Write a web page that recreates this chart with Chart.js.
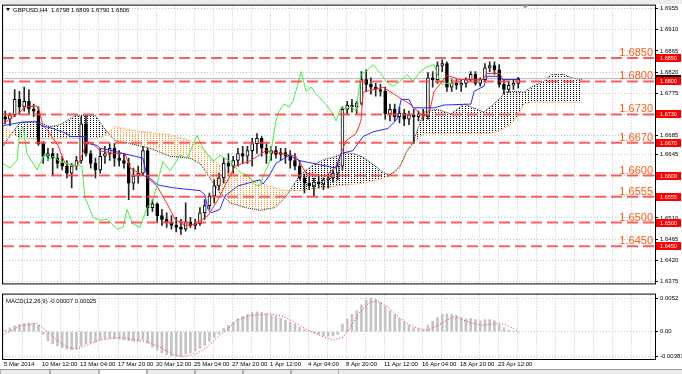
<!DOCTYPE html>
<html>
<head>
<meta charset="utf-8">
<script src="https://cdn.jsdelivr.net/npm/chart.js@4.4.1/dist/chart.umd.min.js"></script>
<style>
  html, body { margin: 0; padding: 0; background: #fff; }
  #wrap { position: relative; width: 682px; height: 374px; overflow: hidden; background: #fff; }
  #main { position: absolute; left: 0; top: 0; }
  #macd { position: absolute; left: 0; top: 289px; }
  #topbar { position: absolute; left: 0; top: 0; width: 682px; height: 4px; background: #ececec; }
  #tabs { position: absolute; left: 0; top: 369px; width: 682px; height: 5px; background: #ececec; border-top: 1px solid #9a9a9a; box-sizing: border-box; }
  #tabs .t { position: absolute; top: 0; height: 5px; border-left: 1px solid #b0b0b0; border-right: 1px solid #b0b0b0; box-sizing: border-box; }
</style>
</head>
<body>
<div id="wrap">
  <canvas id="main" width="682" height="289"></canvas>
  <canvas id="macd" width="682" height="80"></canvas>
  <div id="topbar"></div>
  <div id="tabs">
    <div class="t" style="left:0;width:50px"></div>
    <div class="t" style="left:50px;width:49px"></div>
    <div class="t" style="left:99px;width:48px;background:#fff"></div>
    <div class="t" style="left:147px;width:48px"></div>
    <div class="t" style="left:195px;width:48px"></div>
    <div class="t" style="left:243px;width:48px"></div>
    <div class="t" style="left:291px;width:48px"></div>
  </div>
</div>
<script>
"use strict";

/*
GBPUSD H4 — candles, Ichimoku, MACD(12,26,9)
Candles are 8h groups (two H4 bars each); x axis is measured in H4 bars.
*/

/* ---------------- DATA ---------------- */

const symbolTitle = "GBPUSD,H4";
const lastOHLC = ["1.6798", "1.6809", "1.6790", "1.6806"];
const macdTitle = "MACD(12,26,9) -0.00007 0.00025";

const dateLabels = [
  "5 Mar 2014", "10 Mar 12:00", "13 Mar 04:00", "17 Mar 20:00", "20 Mar 12:00",
  "25 Mar 04:00", "27 Mar 20:00", "1 Apr 12:00", "4 Apr 04:00", "8 Apr 20:00",
  "11 Apr 12:00", "16 Apr 04:00", "18 Apr 20:00", "23 Apr 12:00",
];

const priceTicks = [1.6955, 1.6910, 1.6865, 1.6820, 1.6775, 1.6730, 1.6685,
  1.6645, 1.6600, 1.6555, 1.6510, 1.6465, 1.6420, 1.6375];

const levelPrices = [1.6850, 1.6800, 1.6730, 1.6670, 1.6600, 1.6555, 1.6500, 1.6450];
const bidPrice = 1.6806;

const macdTicks = [0.0052, 0, -0.00381];
const macdTickLabels = ["0.0052", "0.00", "-0.00381"];

const candleOpen = [
  1.6725, 1.6720, 1.6729, 1.6762, 1.6746, 1.6758, 1.6741, 1.6737, 1.6668, 1.6641,
  1.6647, 1.6637, 1.6626, 1.6620, 1.6605, 1.6620, 1.6632, 1.6710, 1.6647, 1.6626,
  1.6612, 1.6641, 1.6647, 1.6658, 1.6637, 1.6632, 1.6626, 1.6584, 1.6599, 1.6605,
  1.6653, 1.6532, 1.6540, 1.6515, 1.6507, 1.6501, 1.6494, 1.6490, 1.6486, 1.6501,
  1.6494, 1.6498, 1.6521, 1.6536, 1.6557, 1.6578, 1.6595, 1.6626, 1.6620, 1.6632,
  1.6647, 1.6641, 1.6653, 1.6668, 1.6679, 1.6658, 1.6647, 1.6653, 1.6645, 1.6649,
  1.6641, 1.6632, 1.6620, 1.6595, 1.6584, 1.6578, 1.6586, 1.6582, 1.6591, 1.6595,
  1.6605, 1.6620, 1.6741, 1.6750, 1.6746, 1.6754, 1.6804, 1.6794, 1.6788, 1.6783,
  1.6779, 1.6731, 1.6741, 1.6725, 1.6733, 1.6720, 1.6729, 1.6725, 1.6731, 1.6727,
  1.6808, 1.6804, 1.6834, 1.6838, 1.6788, 1.6796, 1.6792, 1.6796, 1.6804, 1.6815,
  1.6796, 1.6804, 1.6829, 1.6834, 1.6825, 1.6794, 1.6783, 1.6792, 1.6796,
];
const candleHigh = [
  1.6737, 1.6733, 1.6783, 1.6779, 1.6788, 1.6783, 1.6752, 1.6746, 1.6672, 1.6658,
  1.6658, 1.6647, 1.6641, 1.6632, 1.6626, 1.6641, 1.6725, 1.6727, 1.6653, 1.6637,
  1.6658, 1.6662, 1.6668, 1.6668, 1.6653, 1.6647, 1.6637, 1.6616, 1.6620, 1.6662,
  1.6658, 1.6549, 1.6542, 1.6528, 1.6521, 1.6515, 1.6511, 1.6507, 1.6542, 1.6511,
  1.6507, 1.6532, 1.6549, 1.6563, 1.6591, 1.6605, 1.6637, 1.6647, 1.6641, 1.6658,
  1.6662, 1.6662, 1.6679, 1.6689, 1.6683, 1.6668, 1.6662, 1.6662, 1.6658, 1.6658,
  1.6653, 1.6647, 1.6632, 1.6603, 1.6599, 1.6595, 1.6599, 1.6595, 1.6603, 1.6612,
  1.6626, 1.6746, 1.6758, 1.6762, 1.6758, 1.6821, 1.6825, 1.6808, 1.6796, 1.6794,
  1.6788, 1.6752, 1.6752, 1.6746, 1.6741, 1.6737, 1.6741, 1.6737, 1.6741, 1.6819,
  1.6821, 1.6842, 1.6846, 1.6842, 1.6804, 1.6804, 1.6804, 1.6808, 1.6821, 1.6821,
  1.6808, 1.6838, 1.6842, 1.6842, 1.6836, 1.6804, 1.6800, 1.6804, 1.6809,
];
const candleLow = [
  1.6710, 1.6706, 1.6725, 1.6731, 1.6737, 1.6731, 1.6725, 1.6664, 1.6626, 1.6632,
  1.6601, 1.6616, 1.6612, 1.6595, 1.6574, 1.6612, 1.6626, 1.6641, 1.6616, 1.6595,
  1.6605, 1.6626, 1.6632, 1.6620, 1.6620, 1.6616, 1.6549, 1.6570, 1.6584, 1.6599,
  1.6515, 1.6524, 1.6501, 1.6494, 1.6490, 1.6486, 1.6480, 1.6475, 1.6482, 1.6490,
  1.6486, 1.6494, 1.6507, 1.6528, 1.6542, 1.6570, 1.6584, 1.6605, 1.6605, 1.6620,
  1.6626, 1.6626, 1.6620, 1.6647, 1.6641, 1.6626, 1.6632, 1.6637, 1.6632, 1.6626,
  1.6616, 1.6612, 1.6591, 1.6563, 1.6570, 1.6557, 1.6574, 1.6570, 1.6574, 1.6586,
  1.6591, 1.6612, 1.6731, 1.6735, 1.6731, 1.6750, 1.6779, 1.6773, 1.6769, 1.6769,
  1.6720, 1.6716, 1.6716, 1.6712, 1.6706, 1.6708, 1.6668, 1.6716, 1.6716, 1.6720,
  1.6788, 1.6796, 1.6821, 1.6779, 1.6779, 1.6783, 1.6779, 1.6788, 1.6800, 1.6792,
  1.6790, 1.6800, 1.6821, 1.6815, 1.6788, 1.6773, 1.6777, 1.6783, 1.6786,
];
const candleClose = [
  1.6720, 1.6729, 1.6762, 1.6746, 1.6758, 1.6741, 1.6737, 1.6668, 1.6641, 1.6647,
  1.6637, 1.6626, 1.6620, 1.6605, 1.6620, 1.6632, 1.6710, 1.6647, 1.6626, 1.6612,
  1.6641, 1.6647, 1.6658, 1.6637, 1.6632, 1.6626, 1.6584, 1.6599, 1.6605, 1.6653,
  1.6532, 1.6540, 1.6515, 1.6507, 1.6501, 1.6494, 1.6490, 1.6486, 1.6501, 1.6494,
  1.6498, 1.6521, 1.6536, 1.6557, 1.6578, 1.6595, 1.6626, 1.6620, 1.6632, 1.6647,
  1.6641, 1.6653, 1.6668, 1.6679, 1.6658, 1.6647, 1.6653, 1.6645, 1.6649, 1.6641,
  1.6632, 1.6620, 1.6595, 1.6584, 1.6578, 1.6586, 1.6582, 1.6591, 1.6595, 1.6605,
  1.6620, 1.6741, 1.6750, 1.6746, 1.6754, 1.6804, 1.6794, 1.6788, 1.6783, 1.6779,
  1.6731, 1.6741, 1.6725, 1.6733, 1.6720, 1.6729, 1.6725, 1.6731, 1.6727, 1.6808,
  1.6804, 1.6834, 1.6838, 1.6788, 1.6796, 1.6792, 1.6796, 1.6804, 1.6815, 1.6796,
  1.6804, 1.6829, 1.6834, 1.6825, 1.6794, 1.6783, 1.6792, 1.6796, 1.6806,
];

// Ichimoku lines (x in H4 bars)
const tenkanBar = [-0.4, 3.8, 6.7, 8.8, 13.9, 14.7, 16.4, 18.5, 20.6, 22.7, 25.7, 30.7, 32, 34.9,
  37.5, 40.4, 45.9, 50.9, 53.1, 58.5, 60.6, 64.4, 69.1, 72, 76.2, 80.4, 85.9, 90.1, 94.3, 97.3,
  104, 110.3, 122.9, 127.2, 135.6, 139.8, 144, 148.2, 150.3, 151.2, 159.6, 165.5, 170.9, 176.8,
  179.4, 181.1, 186.5, 192, 201.7, 203.4, 208.8, 210.1, 216.8];
const tenkanVal = [1.6710, 1.6725, 1.6735, 1.6746, 1.6748, 1.6741, 1.6706, 1.6695, 1.6679, 1.6664,
  1.6626, 1.6620, 1.6632, 1.6672, 1.6668, 1.6653, 1.6647, 1.6647, 1.6616, 1.6601, 1.6595, 1.6578,
  1.6536, 1.6507, 1.6494, 1.6496, 1.6515, 1.6549, 1.6591, 1.6620, 1.6632, 1.6653, 1.6641, 1.6605,
  1.6599, 1.6620, 1.6674, 1.6689, 1.6716, 1.6777, 1.6788, 1.6769, 1.6752, 1.6725, 1.6741, 1.6779,
  1.6813, 1.6804, 1.6804, 1.6817, 1.6817, 1.6804, 1.6804];

const kijunBar = [-0.4, 3.8, 8, 14.3, 16, 20.6, 26.5, 27.8, 34.9, 35.4, 39.2, 40.4, 45.9, 50.1,
  58.5, 60.2, 62.7, 64.8, 71.2, 82.5, 84.6, 85.9, 87.2, 90.9, 93.1, 98.5, 107.8, 109.1, 111.6,
  114.5, 120, 124.2, 130.1, 139.8, 141.9, 146.9, 151.2, 155.4, 161.7, 165.5, 167.2, 170.5, 172.2,
  181.1, 185.3, 196.6, 197.9, 202.1, 203.4, 208.4, 209.7, 216.8];
const kijunVal = [1.6706, 1.6710, 1.6714, 1.6714, 1.6706, 1.6700, 1.6689, 1.6683, 1.6683, 1.6668,
  1.6664, 1.6658, 1.6653, 1.6647, 1.6637, 1.6599, 1.6589, 1.6580, 1.6574, 1.6568, 1.6559, 1.6528,
  1.6521, 1.6528, 1.6557, 1.6578, 1.6591, 1.6582, 1.6599, 1.6626, 1.6643, 1.6632, 1.6626, 1.6616,
  1.6647, 1.6653, 1.6683, 1.6693, 1.6700, 1.6720, 1.6762, 1.6762, 1.6744, 1.6744, 1.6750, 1.6752,
  1.6779, 1.6790, 1.6811, 1.6811, 1.6804, 1.6804];

const chikouBar = [-0.4, 2.5, 5.5, 6.7, 8, 9.7, 12.2, 13.9, 15.2, 17.3, 18.5, 20.6, 23.6, 26.5,
  29.1, 31.2, 32.8, 34.1, 35.4, 37.5, 40.4, 43.4, 47.6, 50.1, 51.8, 54.3, 57.3, 60.2, 62.7, 66.9,
  69.9, 74.1, 77.1, 81.3, 83.8, 88, 90.9, 95.2, 99.8, 102.7, 105.7, 107.8, 109.1, 111.6, 114.5,
  115.8, 117.9, 120, 121.7, 122.9, 125.1, 127.2, 129.3, 131.4, 134.3, 136.4, 138.5, 139.8, 141.9,
  144, 146.1, 148.2, 150.3, 152.4, 155.4, 158.3, 161.3, 163.8, 166.7, 169.7, 172.2, 175.2, 178.1,
  181.1, 184, 186.5, 189.9];
const chikouVal = [1.6626, 1.6616, 1.6633, 1.6695, 1.6704, 1.6647, 1.6626, 1.6612, 1.6626, 1.6647,
  1.6633, 1.6641, 1.6630, 1.6626, 1.6620, 1.6622, 1.6620, 1.6553, 1.6538, 1.6511, 1.6505, 1.6507,
  1.6486, 1.6490, 1.6528, 1.6497, 1.6490, 1.6532, 1.6547, 1.6630, 1.6610, 1.6643, 1.6637, 1.6685,
  1.6658, 1.6630, 1.6643, 1.6630, 1.6605, 1.6601, 1.6580, 1.6578, 1.6599, 1.6626, 1.6716, 1.6737,
  1.6752, 1.6746, 1.6758, 1.6779, 1.6821, 1.6779, 1.6788, 1.6773, 1.6758, 1.6746, 1.6731, 1.6716,
  1.6746, 1.6741, 1.6748, 1.6737, 1.6815, 1.6821, 1.6836, 1.6819, 1.6798, 1.6790, 1.6800, 1.6815,
  1.6800, 1.6821, 1.6831, 1.6836, 1.6794, 1.6796, 1.6796];

// Cloud: Senkou span A and B share the same x points
const cloudBar = [-0.4, 3.4, 6.7, 13.1, 19.4, 23.6, 29.9, 38.3, 41.7, 43.8, 46.7, 53.1, 61.5, 69.9,
  78.3, 82.5, 86.7, 90.9, 95.2, 101.5, 107.8, 114.1, 118.3, 120.4, 124.6, 130.1, 134.3, 139.8, 144,
  148.2, 151.2, 155.4, 159.6, 162.5, 166.7, 169.7, 172.2, 174.3, 176.8, 182.3, 188.2, 193.7, 196.6,
  202.1, 206.3, 209.3, 210.5, 213.5, 216, 218.9, 221.9, 227.4, 230.3, 235.8, 238.7, 243.4];
const spanA = [1.6662, 1.6691, 1.6712, 1.6716, 1.6704, 1.6708, 1.6727, 1.6729, 1.6704, 1.6691,
  1.6674, 1.6668, 1.6658, 1.6641, 1.6637, 1.6626, 1.6595, 1.6563, 1.6542, 1.6532, 1.6526, 1.6532,
  1.6553, 1.6568, 1.6601, 1.6622, 1.6633, 1.6641, 1.6649, 1.6645, 1.6639, 1.6624, 1.6607, 1.6601,
  1.6620, 1.6653, 1.6670, 1.6700, 1.6735, 1.6741, 1.6731, 1.6752, 1.6746, 1.6735, 1.6752, 1.6767,
  1.6777, 1.6779, 1.6779, 1.6777, 1.6788, 1.6800, 1.6815, 1.6815, 1.6808, 1.6804];
const spanB = [1.6704, 1.6691, 1.6679, 1.6679, 1.6679, 1.6679, 1.6679, 1.6679, 1.6683, 1.6691,
  1.6704, 1.6697, 1.6691, 1.6687, 1.6674, 1.6662, 1.6641, 1.6620, 1.6605, 1.6599, 1.6584, 1.6574,
  1.6568, 1.6568, 1.6568, 1.6572, 1.6574, 1.6578, 1.6580, 1.6582, 1.6584, 1.6589, 1.6595, 1.6599,
  1.6616, 1.6651, 1.6666, 1.6679, 1.6689, 1.6689, 1.6689, 1.6689, 1.6689, 1.6689, 1.6691, 1.6697,
  1.6700, 1.6710, 1.6725, 1.6752, 1.6756, 1.6756, 1.6756, 1.6756, 1.6756, 1.6756];

// MACD main value per candle group, and the signal line
const macdHist = [
  0.0003, 0.0006, 0.0009, 0.0011, 0.0013, 0.0014, 0.0013, 0.0010, -0.0004, -0.0014,
  -0.0019, -0.0022, -0.0025, -0.0027, -0.0028, -0.0027, -0.0022, -0.0019, -0.0017, -0.0016,
  -0.0013, -0.0011, -0.0010, -0.0011, -0.0012, -0.0013, -0.0014, -0.0015, -0.0015, -0.0013,
  -0.0018, -0.0024, -0.0029, -0.0033, -0.0036, -0.0038, -0.0038, -0.0038, -0.0035, -0.0033,
  -0.0030, -0.0026, -0.0021, -0.0015, -0.0009, -0.0003, 0.0005, 0.0010, 0.0015, 0.0020,
  0.0024, 0.0027, 0.0030, 0.0031, 0.0030, 0.0028, 0.0026, 0.0024, 0.0021, 0.0018,
  0.0015, 0.0012, 0.0007, 0.0003, 0.0001, -0.0002, -0.0004, -0.0006, -0.0007, -0.0006,
  -0.0004, 0.0012, 0.0020, 0.0027, 0.0033, 0.0042, 0.0049, 0.0052, 0.0050, 0.0046,
  0.0040, 0.0033, 0.0027, 0.0021, 0.0015, 0.0010, 0.0006, 0.0004, 0.0003, 0.0010,
  0.0016, 0.0022, 0.0027, 0.0028, 0.0027, 0.0025, 0.0022, 0.0020, 0.0021, 0.0019,
  0.0017, 0.0019, 0.0019, 0.0017, 0.0011, 0.0006, 0.0002, 0.0000, -0.00007,
];
const signalBar = [-0.4, 6.7, 13.9, 18.1, 22.3, 26.5, 30.7, 34.9, 40.4, 48.8, 54.3, 60.2, 65.7,
  71.2, 75.4, 81.3, 85.5, 89.7, 93.9, 98.1, 103.6, 112, 117.5, 121.7, 127.6, 133.1, 138.5, 142.7,
  145.7, 149.9, 154.1, 157.1, 161.3, 165.5, 169.7, 173.9, 178.1, 182.3, 186.5, 189.9, 193.3, 197.5,
  201.7, 205.9, 208.8, 211.8, 216];
const signalVal = [-0.0005, 0.0009, 0.0013, 0.0001, -0.0013, -0.0024, -0.0027, -0.0021, -0.0013,
  -0.0009, -0.0012, -0.0016, -0.0024, -0.0036, -0.0039, -0.0034, -0.0024, -0.0009, 0.0003, 0.0018,
  0.0025, 0.0028, 0.0024, 0.0016, 0.0003, -0.0006, -0.0013, -0.0009, 0.0006, 0.0031, 0.0046, 0.0048,
  0.0040, 0.0025, 0.0013, 0.0006, 0.0002, 0.0009, 0.0018, 0.0024, 0.0018, 0.0013, 0.0010, 0.0012,
  0.0013, 0.0010, 0.00025];

/* ---------------- LAYOUT CONSTANTS ---------------- */

const FONT = '"Liberation Sans", Arial, sans-serif';
const BAR_MIN = -0.42;
const BAR_MAX = 274.1;
const PRICE_MIN = 1.63708;
const PRICE_MAX = 1.69613;
const MACD_MIN = -0.00426;
const MACD_MAX = 0.00579;
const GRID = "#c4c4c4";

const gridBars = [];
for (let b = 0; b <= 272; b += 8) gridBars.push(b);

const groupBar = (i) => 2 * i + 0.5; // centre of an 8h group in H4 bars
const pts = (xs, ys) => xs.map((x, i) => ({ x, y: ys[i] }));

/* ---------------- PATTERNS ---------------- */

const mainCanvas = document.getElementById("main");
const mainCtx = mainCanvas.getContext("2d");

// sparse dot grid, like the MT4 cloud hatching
function dotPattern(color) {
  const c = document.createElement("canvas");
  c.width = 3;
  c.height = 2;
  const g = c.getContext("2d");
  g.fillStyle = color;
  g.fillRect(0, 0, 1, 1);
  return mainCtx.createPattern(c, "repeat");
}

const blackDots = dotPattern("#000");
const orangeDots = dotPattern("#ff9420");

/* ---------------- PLUGINS ---------------- */

const mainOverlay = {
  id: "mainOverlay",
  afterDraw(chart) {
    const { ctx, chartArea: a, scales: { x, y } } = chart;
    ctx.save();

    // pane frame
    ctx.strokeStyle = "#000";
    ctx.lineWidth = 1;
    ctx.strokeRect(a.left - 0.5, a.top - 0.5, a.right - a.left + 1, a.bottom - a.top + 1);

    // big level captions
    ctx.font = `11px ${FONT}`;
    ctx.fillStyle = "#ff5a1e";
    ctx.textAlign = "right";
    ctx.textBaseline = "alphabetic";
    levelPrices.forEach(p => ctx.fillText(p.toFixed(4), a.right - 2, y.getPixelForValue(p) - 2));

    // price tags on the axis
    ctx.font = `5.5px ${FONT}`;
    ctx.textAlign = "center";
    ctx.textBaseline = "middle";
    const tag = (p, bg) => {
      const py = Math.round(y.getPixelForValue(p));
      ctx.fillStyle = bg;
      ctx.fillRect(a.right + 1, py - 4, 25, 8);
      ctx.fillStyle = "#fff";
      ctx.fillText(p.toFixed(4), a.right + 13.5, py + 0.5);
    };
    tag(bidPrice, "#000");
    levelPrices.forEach(p => tag(p, "#ff0000"));

    // header
    ctx.fillStyle = "#000";
    ctx.textAlign = "left";
    ctx.textBaseline = "alphabetic";
    ctx.beginPath();
    ctx.moveTo(6, 8);
    ctx.lineTo(10, 8);
    ctx.lineTo(8, 11);
    ctx.closePath();
    ctx.fill();
    ctx.font = `6px ${FONT}`;
    ctx.fillText(`${symbolTitle}  ${lastOHLC.join(" ")}`, 13, 12);

    // chart shift marker
    const sx = x.getPixelForValue(219.5);
    ctx.fillStyle = "#a0a0a0";
    ctx.beginPath();
    ctx.moveTo(sx - 3, a.top);
    ctx.lineTo(sx + 3, a.top);
    ctx.lineTo(sx, a.top + 3);
    ctx.closePath();
    ctx.fill();

    ctx.restore();
  },
};

const macdOverlay = {
  id: "macdOverlay",
  afterDraw(chart) {
    const { ctx, chartArea: a } = chart;
    ctx.save();
    ctx.strokeStyle = "#000";
    ctx.lineWidth = 1;
    ctx.strokeRect(a.left - 0.5, a.top - 0.5, a.right - a.left + 1, a.bottom - a.top + 1);
    ctx.fillStyle = "#000";
    ctx.font = `6px ${FONT}`;
    ctx.textAlign = "left";
    ctx.fillText(macdTitle, 6, a.top + 8);
    ctx.restore();
  },
};

/* ---------------- MAIN CHART ---------------- */

const candleWicks = candleLow.map((lo, i) => ({ x: groupBar(i), y: [lo, candleHigh[i]] }));
const candleBodies = candleOpen.map((o, i) => ({ x: groupBar(i), y: [o, candleClose[i]] }));
const fullSpan = (p) => [{ x: BAR_MIN, y: p }, { x: BAR_MAX, y: p }];

const levelDatasets = levelPrices.map(p => ({
  type: "line",
  data: fullSpan(p),
  borderColor: "rgba(255,64,64,0.85)",
  borderWidth: 2,
  borderDash: [11, 5],
  pointRadius: 0,
  order: 0,
}));

new Chart(mainCanvas, {
  type: "bar",
  data: {
    datasets: [
      {
        type: "line",
        data: pts(cloudBar, spanA),
        borderColor: "#222",
        borderWidth: 1,
        borderDash: [1, 1],
        pointRadius: 0,
        fill: { target: 1, above: blackDots, below: orangeDots },
        order: 6,
      },
      {
        type: "line",
        data: pts(cloudBar, spanB),
        borderColor: "#ff9a20",
        borderWidth: 1,
        borderDash: [1, 1],
        pointRadius: 0,
        order: 5,
      },
      {
        type: "line",
        data: fullSpan(bidPrice),
        borderColor: "#b4b4b4",
        borderWidth: 1,
        pointRadius: 0,
        order: 4,
      },
      {
        type: "bar",
        data: candleWicks,
        backgroundColor: "#262626",
        barThickness: 1,
        grouped: false,
        order: 3,
      },
      {
        type: "bar",
        data: candleBodies,
        backgroundColor: (c) => {
          const i = c.dataIndex;
          return candleClose[i] >= candleOpen[i] ? "#ffffff" : "#000000";
        },
        borderColor: "#000",
        borderWidth: 1,
        borderSkipped: false,
        barThickness: 3,
        minBarLength: 1,
        grouped: false,
        order: 2,
      },
      {
        type: "line",
        data: pts(chikouBar, chikouVal),
        borderColor: "#44ee44",
        borderWidth: 1,
        pointRadius: 0,
        order: 1,
      },
      {
        type: "line",
        data: pts(kijunBar, kijunVal),
        borderColor: "#2a2aff",
        borderWidth: 1,
        pointRadius: 0,
        order: 1,
      },
      {
        type: "line",
        data: pts(tenkanBar, tenkanVal),
        borderColor: "#ff2a2a",
        borderWidth: 1,
        pointRadius: 0,
        order: 1,
      },
      ...levelDatasets,
    ],
  },
  options: {
    responsive: false,
    animation: false,
    devicePixelRatio: 1,
    events: [],
    layout: { padding: { left: 3, top: 5, right: 0, bottom: 2 } },
    plugins: { legend: { display: false }, tooltip: { enabled: false } },
    scales: {
      x: {
        type: "linear",
        min: BAR_MIN,
        max: BAR_MAX,
        offset: false,
        grid: { color: GRID, drawTicks: false, offset: false },
        border: { display: false, dash: [1, 2] },
        ticks: { display: false },
        afterBuildTicks: (s) => { s.ticks = gridBars.map(v => ({ value: v })); },
        afterFit: (s) => { s.height = 0; },
      },
      y: {
        position: "right",
        min: PRICE_MIN,
        max: PRICE_MAX,
        grid: { color: GRID, drawTicks: true, tickLength: 3, tickColor: "#000" },
        border: { display: false, dash: [1, 2] },
        ticks: {
          color: "#000",
          padding: 2,
          font: { size: 6, family: FONT },
          callback: (v) => v.toFixed(4),
        },
        afterBuildTicks: (s) => { s.ticks = priceTicks.map(v => ({ value: v })); },
        afterFit: (s) => { s.width = 27; },
      },
    },
  },
  plugins: [mainOverlay],
});

/* ---------------- MACD CHART ---------------- */

new Chart(document.getElementById("macd"), {
  type: "bar",
  data: {
    datasets: [
      {
        type: "line",
        data: pts(signalBar, signalVal),
        borderColor: "#ff2a2a",
        borderWidth: 1,
        borderDash: [1, 2],
        pointRadius: 0,
        order: 0,
      },
      {
        type: "bar",
        data: macdHist.map((v, i) => ({ x: groupBar(i), y: v })),
        backgroundColor: "#c4c4c4",
        barThickness: 2,
        order: 1,
      },
    ],
  },
  options: {
    responsive: false,
    animation: false,
    devicePixelRatio: 1,
    events: [],
    layout: { padding: { left: 3, top: 1, right: 0, bottom: 0 } },
    plugins: { legend: { display: false }, tooltip: { enabled: false } },
    scales: {
      x: {
        type: "linear",
        min: BAR_MIN,
        max: BAR_MAX,
        offset: false,
        grid: { color: GRID, drawTicks: false, offset: false },
        border: { display: false, dash: [1, 2] },
        ticks: {
          autoSkip: false,
          maxRotation: 0,
          minRotation: 0,
          align: "start",
          padding: 2,
          color: "#000",
          font: { size: 6, family: FONT },
          callback: (v) => (v % 16 === 0 ? dateLabels[v / 16] || "" : ""),
        },
        afterBuildTicks: (s) => { s.ticks = gridBars.map(v => ({ value: v })); },
        afterFit: (s) => { s.height = 10; },
      },
      y: {
        position: "right",
        min: MACD_MIN,
        max: MACD_MAX,
        grid: { color: GRID, drawTicks: true, tickLength: 3, tickColor: "#000" },
        border: { display: false, dash: [1, 2] },
        ticks: {
          color: "#000",
          padding: 2,
          font: { size: 6, family: FONT },
          callback: (v, i) => macdTickLabels[i],
        },
        afterBuildTicks: (s) => { s.ticks = macdTicks.map(v => ({ value: v })); },
        afterFit: (s) => { s.width = 27; },
      },
    },
  },
  plugins: [macdOverlay],
});
</script>
</body>
</html>
